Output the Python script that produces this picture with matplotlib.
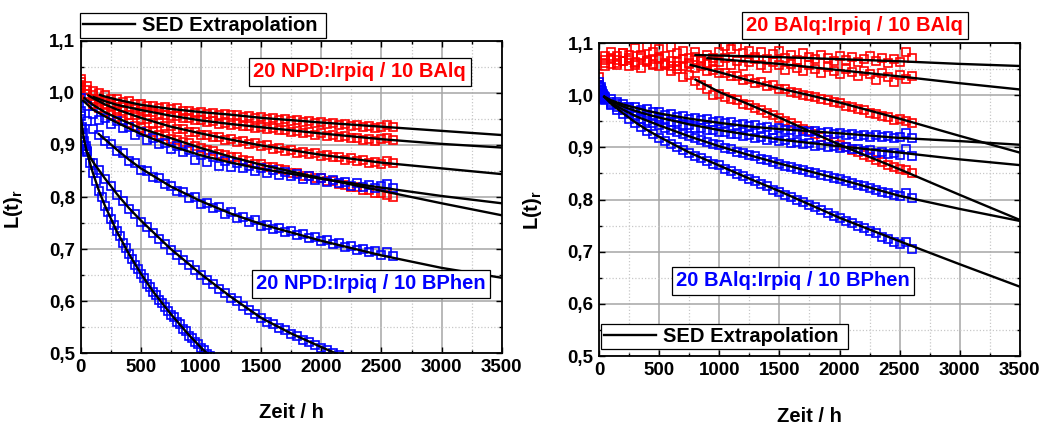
import numpy as np
import matplotlib
matplotlib.use("Agg")
import matplotlib.pyplot as plt
from matplotlib.lines import Line2D
from matplotlib.ticker import MultipleLocator, FuncFormatter

plt.rcParams.update({
    "font.family": ["Liberation Sans", "DejaVu Sans"],
    "font.weight": "bold",
    "axes.labelweight": "bold",
    "font.size": 13.5,
    "mathtext.fontset": "custom",
    "mathtext.rm": "Liberation Sans:bold",
    "mathtext.it": "Liberation Sans:bold",
    "mathtext.default": "rm",
})

RED = "#ff0000"
BLUE = "#0000ff"

# ---------------- measurement time grids (h) ----------------
T_STD = np.arange(0, 2601, 50)
T_EARLY = np.concatenate([[0, 10, 20, 30, 40], np.arange(50, 2601, 50)])
T_NB3 = np.concatenate([[0, 10, 20, 30, 40], np.arange(50, 2201, 50)])
T_NB4 = np.concatenate([[0, 10, 20, 30, 40], np.arange(50, 1101, 25)])

# ---------------- left: 20 NPD:Irpiq ----------------
npd_balq_1 = [1.026, 1.014, 1.004, 0.999, 0.995, 0.989, 0.988, 0.983, 0.984, 0.978,
              0.978, 0.975, 0.975, 0.971, 0.972, 0.968, 0.970, 0.965, 0.966, 0.962,
              0.964, 0.960, 0.962, 0.958, 0.959, 0.957, 0.958, 0.954, 0.955, 0.951,
              0.953, 0.950, 0.951, 0.948, 0.949, 0.946, 0.948, 0.944, 0.945, 0.942,
              0.944, 0.940, 0.942, 0.939, 0.940, 0.937, 0.938, 0.935, 0.937, 0.933,
              0.935, 0.938, 0.935]
npd_balq_2 = [1.020, 1.006, 0.995, 0.989, 0.985, 0.979, 0.978, 0.972, 0.973, 0.968,
              0.968, 0.963, 0.964, 0.959, 0.958, 0.956, 0.955, 0.951, 0.951, 0.947,
              0.948, 0.944, 0.945, 0.941, 0.942, 0.939, 0.940, 0.936, 0.937, 0.933,
              0.935, 0.931, 0.932, 0.928, 0.929, 0.925, 0.927, 0.922, 0.924, 0.920,
              0.922, 0.918, 0.919, 0.915, 0.917, 0.913, 0.914, 0.910, 0.912, 0.908,
              0.911, 0.913, 0.909]
npd_balq_3 = [1.015, 0.998, 0.989, 0.983, 0.977, 0.974, 0.966, 0.965, 0.958, 0.957,
              0.950, 0.949, 0.943, 0.942, 0.936, 0.936, 0.930, 0.930, 0.924, 0.925,
              0.920, 0.920, 0.915, 0.916, 0.910, 0.912, 0.906, 0.907, 0.902, 0.903,
              0.897, 0.899, 0.893, 0.894, 0.889, 0.891, 0.885, 0.887, 0.882, 0.884,
              0.879, 0.881, 0.876, 0.877, 0.872, 0.874, 0.869, 0.871, 0.866, 0.867,
              0.864, 0.869, 0.865]
npd_balq_4 = [1.010, 0.990, 0.978, 0.970, 0.964, 0.957, 0.953, 0.946, 0.943, 0.936,
              0.933, 0.927, 0.925, 0.919, 0.917, 0.912, 0.910, 0.905, 0.903, 0.897,
              0.895, 0.890, 0.889, 0.883, 0.881, 0.877, 0.876, 0.871, 0.869, 0.864,
              0.863, 0.858, 0.857, 0.853, 0.852, 0.847, 0.846, 0.841, 0.840, 0.836,
              0.836, 0.831, 0.830, 0.825, 0.824, 0.820, 0.819, 0.814, 0.813, 0.808,
              0.807, 0.803, 0.800]
npd_bphen_1 = [0.990, 0.975, 0.960, 0.948, 0.952, 0.940, 0.945, 0.932, 0.935, 0.920,
               0.924, 0.910, 0.913, 0.902, 0.904, 0.893, 0.897, 0.886, 0.890, 0.872,
               0.881, 0.868, 0.876, 0.860, 0.870, 0.858, 0.866, 0.855, 0.860, 0.850,
               0.856, 0.847, 0.851, 0.843, 0.848, 0.840, 0.844, 0.835, 0.840, 0.832,
               0.836, 0.829, 0.833, 0.826, 0.829, 0.822, 0.826, 0.819, 0.823, 0.817,
               0.821, 0.825, 0.818]
npd_bphen_2 = [0.965, 0.945, 0.930, 0.920, 0.907, 0.902, 0.888, 0.884, 0.870, 0.866,
               0.852, 0.850, 0.838, 0.836, 0.825, 0.822, 0.812, 0.810, 0.799, 0.800,
               0.787, 0.789, 0.778, 0.780, 0.768, 0.771, 0.760, 0.762, 0.752, 0.755,
               0.745, 0.747, 0.739, 0.741, 0.733, 0.734, 0.727, 0.729, 0.721, 0.723,
               0.715, 0.717, 0.709, 0.712, 0.704, 0.706, 0.699, 0.701, 0.694, 0.696,
               0.688, 0.694, 0.687]
npd_bphen_3 = [0.930, 0.915, 0.905, 0.897, 0.892,
               0.888, 0.866, 0.852, 0.834, 0.822, 0.804, 0.793, 0.777, 0.767, 0.752,
               0.743, 0.730, 0.720, 0.709, 0.698, 0.689, 0.679, 0.670, 0.660, 0.651,
               0.641, 0.633, 0.624, 0.616, 0.607, 0.600, 0.591, 0.584, 0.575, 0.568,
               0.561, 0.556, 0.549, 0.544, 0.537, 0.533, 0.526, 0.522, 0.516, 0.511,
               0.506, 0.501, 0.496, 0.491]
npd_bphen_4 = [0.955, 0.935, 0.922, 0.908, 0.897,
               0.887, 0.866, 0.846, 0.830, 0.812, 0.800, 0.783, 0.772, 0.758, 0.747,
               0.734, 0.725, 0.712, 0.703, 0.690, 0.682, 0.670, 0.662, 0.652, 0.644,
               0.634, 0.628, 0.618, 0.612, 0.603, 0.597, 0.588, 0.582, 0.574, 0.569,
               0.560, 0.556, 0.547, 0.543, 0.534, 0.530, 0.522, 0.518, 0.510, 0.506,
               0.499, 0.495, 0.488]

# SED fits / extrapolations, left panel
fit_nb_t1 = [160, 200, 300, 400, 500, 750, 1000, 1250, 1500, 2000, 2500, 3000, 3500]
fit_nb_1 = [0.996, 0.993, 0.987, 0.982, 0.977, 0.969, 0.963, 0.958, 0.952, 0.943, 0.935, 0.927, 0.919]
fit_nb_t2 = [105, 200, 300, 400, 500, 750, 1000, 1250, 1500, 2000, 2500, 3000, 3500]
fit_nb_2 = [0.992, 0.984, 0.977, 0.972, 0.967, 0.956, 0.947, 0.940, 0.934, 0.922, 0.911, 0.902, 0.895]
fit_nb_t3 = [63, 100, 200, 300, 400, 500, 750, 1000, 1250, 1500, 2000, 2500, 3000, 3500]
fit_nb_3 = [0.995, 0.990, 0.978, 0.968, 0.960, 0.952, 0.935, 0.922, 0.910, 0.899, 0.881, 0.866, 0.855, 0.844]
fit_nb_t4 = [30, 100, 200, 300, 400, 500, 750, 1000, 1250, 1500, 2000, 2500, 3000, 3500]
fit_nb_4 = [0.990, 0.977, 0.963, 0.952, 0.942, 0.932, 0.913, 0.894, 0.877, 0.862, 0.836, 0.812, 0.788, 0.765]
fit_np_t1 = [20, 100, 200, 300, 400, 500, 750, 1000, 1250, 1500, 2000, 2500, 3000, 3500]
fit_np_1 = [0.985, 0.968, 0.955, 0.943, 0.932, 0.921, 0.898, 0.880, 0.866, 0.854, 0.835, 0.818, 0.802, 0.788]
fit_np_t2 = [150, 200, 300, 400, 500, 750, 1000, 1250, 1500, 2000, 2500, 3000, 3500]
fit_np_2 = [0.921, 0.911, 0.891, 0.872, 0.855, 0.820, 0.792, 0.768, 0.748, 0.716, 0.688, 0.664, 0.645]
fit_np_t3 = [44, 100, 200, 300, 400, 500, 750, 1000, 1250, 1500, 1750, 2000, 2250]
fit_np_3 = [0.890, 0.868, 0.836, 0.806, 0.779, 0.755, 0.700, 0.652, 0.608, 0.568, 0.538, 0.512, 0.487]
fit_np_t4 = [0, 25, 50, 100, 150, 200, 300, 400, 500, 600, 750, 900, 1000, 1100]
fit_np_4 = [0.954, 0.913, 0.887, 0.847, 0.813, 0.784, 0.734, 0.691, 0.653, 0.619, 0.575, 0.535, 0.511, 0.489]

# ---------------- right: 20 BAlq:Irpiq ----------------
balq_balq_1 = [1.035, 1.075, 1.083, 1.068, 1.080, 1.072, 1.090, 1.078, 1.095, 1.082,
               1.088, 1.076, 1.092, 1.080, 1.085, 1.072, 1.083, 1.070, 1.078, 1.066,
               1.082, 1.095, 1.088, 1.094, 1.080, 1.085, 1.074, 1.082, 1.070, 1.079,
               1.085, 1.072, 1.078, 1.068, 1.080, 1.074, 1.069, 1.078, 1.071, 1.066,
               1.075, 1.068, 1.073, 1.063, 1.070, 1.076, 1.065, 1.071, 1.062, 1.069,
               1.064, 1.083, 1.072]
balq_balq_2 = [1.010, 1.062, 1.070, 1.058, 1.066, 1.055, 1.063, 1.052, 1.068, 1.060,
               1.072, 1.058, 1.066, 1.055, 1.069, 1.061, 1.074, 1.066, 1.060, 1.071,
               1.064, 1.072, 1.058, 1.066, 1.055, 1.063, 1.070, 1.058, 1.052, 1.064,
               1.057, 1.049, 1.060, 1.053, 1.046, 1.057, 1.050, 1.043, 1.054, 1.047,
               1.040, 1.051, 1.044, 1.037, 1.047, 1.040, 1.030, 1.042, 1.034, 1.025,
               1.038, 1.031, 1.036]
balq_balq_3 = [1.020, 1.068, 1.060, 1.075, 1.065, 1.078, 1.062, 1.072, 1.066, 1.058,
               1.070, 1.062, 1.055, 1.064, 1.056, 1.060, 1.052, 1.055, 1.046, 1.048,
               1.042, 1.043, 1.036, 1.037, 1.030, 1.031, 1.024, 1.025, 1.018, 1.019,
               1.012, 1.011, 1.007, 1.005, 1.001, 0.998, 0.996, 0.992, 0.990, 0.986,
               0.985, 0.980, 0.978, 0.973, 0.971, 0.966, 0.964, 0.960, 0.958, 0.953,
               0.955, 0.950, 0.947]
balq_balq_4 = [1.000, 1.055, 1.072, 1.062, 1.080, 1.068, 1.058, 1.075, 1.063, 1.070,
               1.055, 1.060, 1.046, 1.050, 1.035, 1.038, 1.027, 1.020, 1.012, 1.000,
               1.003, 0.996, 0.993, 0.990, 0.984, 0.981, 0.976, 0.972, 0.966, 0.962,
               0.956, 0.951, 0.946, 0.941, 0.936, 0.931, 0.926, 0.920, 0.915, 0.910,
               0.905, 0.900, 0.895, 0.891, 0.886, 0.881, 0.876, 0.872, 0.867, 0.862,
               0.858, 0.856, 0.850]
balq_bphen_1 = [1.025, 1.015, 1.008, 1.003, 0.999,
                0.996, 0.992, 0.986, 0.984, 0.978, 0.978, 0.972, 0.973, 0.967, 0.968,
                0.962, 0.964, 0.959, 0.960, 0.955, 0.957, 0.952, 0.954, 0.949, 0.951,
                0.946, 0.948, 0.943, 0.945, 0.940, 0.942, 0.938, 0.939, 0.934, 0.937,
                0.933, 0.934, 0.930, 0.932, 0.929, 0.931, 0.927, 0.929, 0.925, 0.927,
                0.924, 0.926, 0.922, 0.924, 0.920, 0.923, 0.919, 0.921, 0.917, 0.920,
                0.928, 0.917]
balq_bphen_2 = [1.020, 1.012, 1.005, 1.000, 0.997,
                0.994, 0.987, 0.983, 0.977, 0.975, 0.969, 0.967, 0.962, 0.960, 0.955,
                0.954, 0.949, 0.948, 0.943, 0.943, 0.938, 0.938, 0.933, 0.934, 0.930,
                0.930, 0.926, 0.926, 0.922, 0.923, 0.918, 0.920, 0.915, 0.917, 0.912,
                0.914, 0.909, 0.911, 0.906, 0.908, 0.903, 0.905, 0.900, 0.903, 0.898,
                0.900, 0.896, 0.897, 0.893, 0.895, 0.890, 0.892, 0.888, 0.889, 0.886,
                0.897, 0.884]
balq_bphen_3 = [1.018, 1.010, 1.003, 0.999, 0.996,
                0.993, 0.984, 0.977, 0.971, 0.966, 0.961, 0.955, 0.951, 0.946, 0.942,
                0.937, 0.934, 0.929, 0.926, 0.921, 0.918, 0.914, 0.911, 0.906, 0.904,
                0.899, 0.897, 0.892, 0.890, 0.885, 0.883, 0.878, 0.876, 0.871, 0.869,
                0.865, 0.863, 0.859, 0.857, 0.853, 0.851, 0.847, 0.845, 0.841, 0.839,
                0.835, 0.832, 0.828, 0.826, 0.822, 0.819, 0.815, 0.813, 0.809, 0.807,
                0.812, 0.803]
balq_bphen_4 = [1.015, 1.006, 1.000, 0.996, 0.993,
                0.990, 0.981, 0.972, 0.963, 0.955, 0.946, 0.939, 0.931, 0.925, 0.918,
                0.912, 0.906, 0.900, 0.894, 0.889, 0.884, 0.879, 0.874, 0.869, 0.866,
                0.859, 0.855, 0.849, 0.845, 0.839, 0.835, 0.829, 0.825, 0.819, 0.815,
                0.809, 0.805, 0.799, 0.795, 0.789, 0.785, 0.779, 0.775, 0.769, 0.765,
                0.759, 0.755, 0.749, 0.745, 0.739, 0.735, 0.729, 0.725, 0.719, 0.714,
                0.718, 0.705]

# SED fits / extrapolations, right panel
fit_bb_t1 = [800, 1000, 1500, 2000, 2500, 3000, 3500]
fit_bb_1 = [1.077, 1.076, 1.073, 1.069, 1.065, 1.060, 1.056]
fit_bb_t2 = [900, 1000, 1500, 2000, 2500, 3000, 3500]
fit_bb_2 = [1.071, 1.069, 1.060, 1.048, 1.036, 1.023, 1.011]
fit_bb_t3 = [760, 1000, 1250, 1500, 1750, 2000, 2500, 3000, 3500]
fit_bb_3 = [1.058, 1.044, 1.028, 1.013, 1.000, 0.986, 0.955, 0.922, 0.890]
fit_bb_t4 = [800, 1000, 1250, 1500, 1750, 2000, 2500, 3000, 3500]
fit_bb_4 = [1.030, 1.006, 0.982, 0.957, 0.931, 0.905, 0.858, 0.809, 0.761]
fit_bp_t = [42, 100, 200, 300, 400, 500, 750, 1000, 1250, 1500, 2000, 2500, 3000, 3500]
fit_bp_1 = [0.997, 0.990, 0.982, 0.976, 0.970, 0.965, 0.955, 0.947, 0.940, 0.935, 0.927, 0.918, 0.912, 0.905]
fit_bp_2 = [0.997, 0.988, 0.978, 0.970, 0.963, 0.957, 0.944, 0.933, 0.924, 0.915, 0.902, 0.890, 0.877, 0.866]
fit_bp_3 = [0.997, 0.985, 0.972, 0.960, 0.951, 0.942, 0.921, 0.902, 0.885, 0.869, 0.839, 0.807, 0.782, 0.759]
fit_bp_4 = [0.997, 0.983, 0.965, 0.948, 0.933, 0.920, 0.890, 0.865, 0.840, 0.816, 0.765, 0.720, 0.676, 0.633]

Y_TICKS = [0.5, 0.6, 0.7, 0.8, 0.9, 1.0, 1.1]
X_TICKS = [0, 500, 1000, 1500, 2000, 2500, 3000, 3500]


def style_axes(ax):
    ax.set_xlim(0, 3500)
    ax.set_ylim(0.5, 1.1)
    ax.set_xticks(X_TICKS)
    ax.set_yticks(Y_TICKS)
    ax.xaxis.set_minor_locator(MultipleLocator(250))
    ax.yaxis.set_minor_locator(MultipleLocator(0.05))
    ax.yaxis.set_major_formatter(FuncFormatter(lambda v, p: f"{v:.1f}".replace(".", ",")))
    ax.grid(which="major", color="#a6a6a6", lw=1.1, ls="-")
    ax.grid(which="minor", color="#c8c8c8", lw=0.9, ls=(0, (1, 1.6)))
    ax.set_axisbelow(True)
    ax.tick_params(which="both", direction="in", top=True, right=True, width=1.0,
                   labelsize=13.5, pad=4)
    ax.tick_params(which="major", length=4.5)
    ax.tick_params(which="minor", length=2.5)
    for s in ax.spines.values():
        s.set_linewidth(1.3)


def data(ax, t, v, color):
    assert len(t) == len(v)
    ax.plot(t, v, ls="none", marker="s", ms=6.4, mfc="none", mec=color, mew=1.2, zorder=2)


def fit(ax, t, v):
    assert len(t) == len(v)
    ax.plot(t, v, color="black", lw=1.7, zorder=3, solid_joinstyle="round")


def label_box(ax, x, y, s, color):
    ax.text(x, y, s, transform=ax.transAxes, ha="center", va="center", color=color,
            fontsize=14.5, zorder=6,
            bbox=dict(boxstyle="square,pad=0.22", fc="white", ec="black", lw=0.9))


fig = plt.figure(figsize=(10.47, 4.26), dpi=100)
axL = fig.add_axes([0.0771, 0.1706, 0.4021, 0.7338])
axR = fig.add_axes([0.5724, 0.1643, 0.4015, 0.7347])

# left panel
style_axes(axL)
for v in (npd_balq_1, npd_balq_2, npd_balq_3, npd_balq_4):
    data(axL, T_STD, v, RED)
data(axL, T_STD, npd_bphen_1, BLUE)
data(axL, T_STD, npd_bphen_2, BLUE)
data(axL, T_NB3, npd_bphen_3, BLUE)
data(axL, T_NB4, npd_bphen_4, BLUE)
for t, v in ((fit_nb_t1, fit_nb_1), (fit_nb_t2, fit_nb_2), (fit_nb_t3, fit_nb_3),
             (fit_nb_t4, fit_nb_4), (fit_np_t1, fit_np_1), (fit_np_t2, fit_np_2),
             (fit_np_t3, fit_np_3), (fit_np_t4, fit_np_4)):
    fit(axL, t, v)
label_box(axL, 0.663, 0.901, "20 NPD:Irpiq / 10 BAlq", RED)
label_box(axL, 0.690, 0.223, "20 NPD:Irpiq / 10 BPhen", BLUE)

# right panel
style_axes(axR)
for v in (balq_balq_1, balq_balq_2, balq_balq_3, balq_balq_4):
    data(axR, T_STD, v, RED)
for v in (balq_bphen_1, balq_bphen_2, balq_bphen_3, balq_bphen_4):
    data(axR, T_EARLY, v, BLUE)
for t, v in ((fit_bb_t1, fit_bb_1), (fit_bb_t2, fit_bb_2), (fit_bb_t3, fit_bb_3),
             (fit_bb_t4, fit_bb_4), (fit_bp_t, fit_bp_1), (fit_bp_t, fit_bp_2),
             (fit_bp_t, fit_bp_3), (fit_bp_t, fit_bp_4)):
    fit(axR, t, v)
label_box(axR, 0.608, 1.056, "20 BAlq:Irpiq / 10 BAlq", RED)
label_box(axR, 0.461, 0.241, "20 BAlq:Irpiq / 10 BPhen", BLUE)

# axis labels
for ax, xl_y, yl_x, yl_y in ((axL, -0.159, -0.132, 0.46), (axR, -0.163, -0.1315, 0.466)):
    ax.set_xlabel("Zeit / h", fontsize=14.5, fontweight="bold")
    ax.xaxis.set_label_coords(0.5, xl_y)
    ax.set_ylabel("L(t)$_\\mathrm{r}$", fontsize=14.5, fontweight="bold")
    ax.yaxis.set_label_coords(yl_x, yl_y)

# legends
sed = [Line2D([], [], color="black", lw=1.7, label="SED Extrapolation ")]
leg_kw = dict(frameon=True, fancybox=False, edgecolor="black", fontsize=14.5,
              handlelength=2.6, handletextpad=0.35, borderpad=0.15, borderaxespad=0,
              framealpha=1)
legL = axL.legend(handles=sed, loc="lower left", bbox_to_anchor=(-0.002, 1.009), **leg_kw)
legR = axR.legend(handles=sed, loc="lower left", bbox_to_anchor=(0.004, 0.022), **leg_kw)
for lg in (legL, legR):
    lg.get_frame().set_linewidth(0.9)
    lg.set_zorder(7)

fig.savefig("out.png", dpi=100)
